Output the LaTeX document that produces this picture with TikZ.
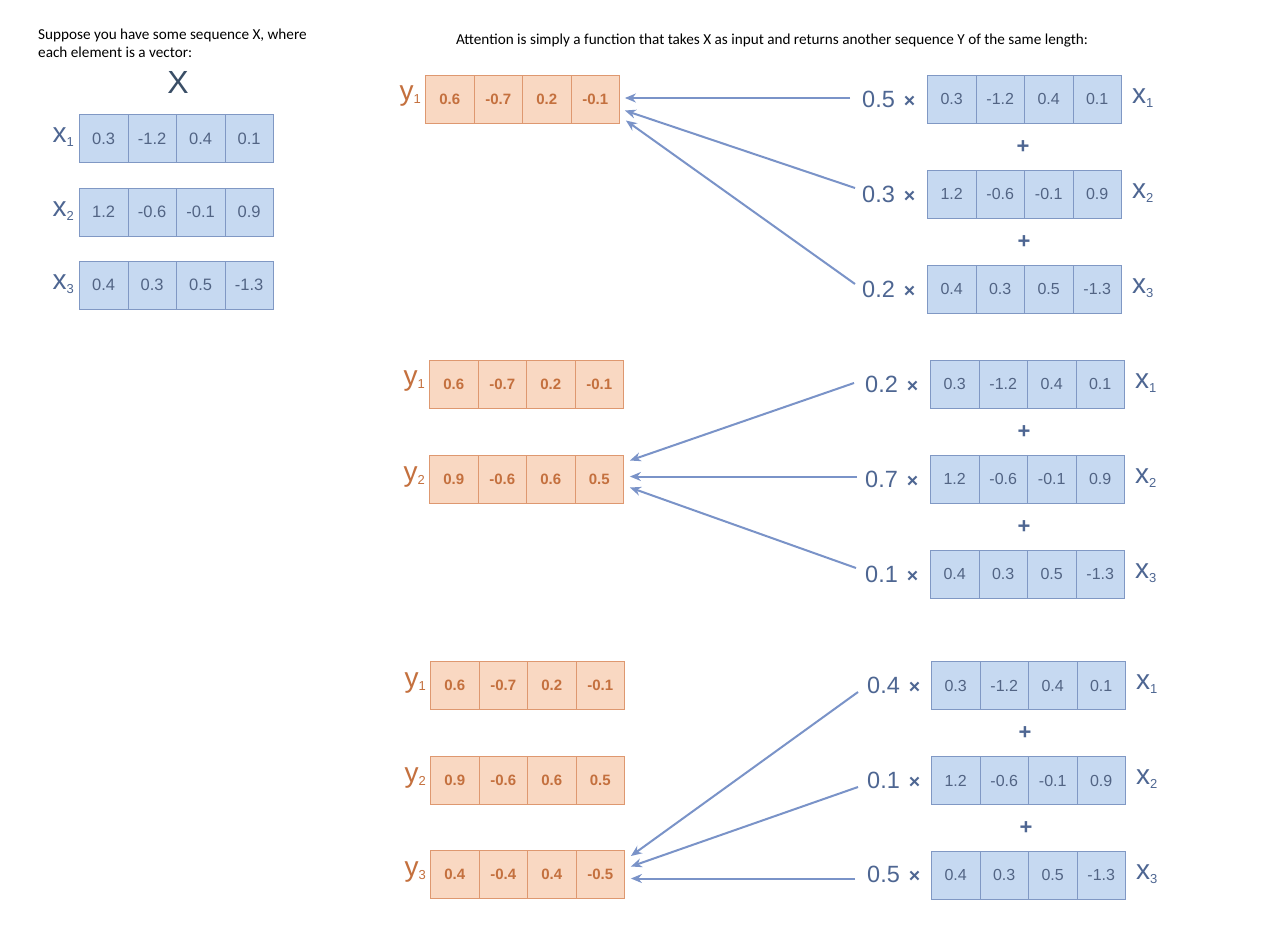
\documentclass[tikz,border=0pt]{standalone}
\usepackage{fontspec}
\setmainfont{Liberation Sans}
\newfontfamily\calfont{Carlito}
\usetikzlibrary{calc,arrows.meta}
\definecolor{bfill}{RGB}{198,217,241}
\definecolor{bdraw}{RGB}{128,152,196}
\definecolor{btext}{RGB}{82,100,132}
\definecolor{ofill}{RGB}{249,216,194}
\definecolor{odraw}{RGB}{222,152,112}
\definecolor{otext}{RGB}{196,112,62}
\definecolor{arrc}{RGB}{122,147,200}
\definecolor{wtext}{RGB}{78,102,146}
\definecolor{bigx}{RGB}{58,78,102}
\tikzset{
  cellbase/.style={line width=0.9pt, minimum width=48.5pt, minimum height=48pt, inner sep=0pt, anchor=west},
  bcell/.style={cellbase, draw=bdraw, fill=bfill, text=btext, font=\fontsize{16}{16}\selectfont},
  bcellL/.style={bcell, font=\fontsize{16.5}{16.5}\selectfont},
  ocell/.style={cellbase, draw=odraw, fill=ofill, text=otext, font=\fontsize{15}{15}\selectfont\bfseries},
  arr/.style={draw=arrc, line width=2pt, -{Stealth[length=11pt,width=9pt]}},
  wlab/.style={text=wtext, font=\fontsize{23.5}{23.5}\selectfont, anchor=west, inner sep=0pt},
  xlabel/.style={text=wtext, font=\fontsize{28}{28}\selectfont, inner sep=0pt},
  ylabel/.style={text=otext, font=\fontsize{28}{28}\selectfont, inner sep=0pt},
  plusnode/.style={text=wtext, font=\fontsize{22}{22}\selectfont\bfseries, inner sep=0pt},
  caption/.style={font=\calfont\fontsize{15.2}{18}\selectfont, inner sep=0pt, align=left}
}
\newcommand\vrow[5]{\foreach \v [count=\i] in {#5} {\node[#4] (#1-\i) at ({#2+48.5*(\i-1)}, #3) {\v};}}
\newcommand\sub[2]{#1\raisebox{-0.12em}{\fontsize{13}{13}\selectfont #2}}
\newcommand\wt[1]{#1\hspace{9pt}{\bfseries\fontsize{19.5}{19.5}\selectfont ×}}
\begin{document}
\begin{tikzpicture}[x=1pt,y=-1pt]
\useasboundingbox[fill=white] (0,0) rectangle (1273,947);

% captions
\node[caption, anchor=north west] (cap1) at (38,29) {Suppose you have some sequence X, where\\each element is a vector:};
\node[caption, anchor=center] (cap2) at (772,41) {Attention is simply a function that takes X as input and returns another sequence Y of the same length:};

% left X
\node[text=bigx, font=\fontsize{32}{32}\selectfont, inner sep=0pt] (bigX) at (178,82) {X};
\vrow{lx1}{79}{138.5}{bcellL}{0.3,-1.2,0.4,0.1}
\vrow{lx2}{79}{212}{bcellL}{1.2,-0.6,-0.1,0.9}
\vrow{lx3}{79}{285}{bcellL}{0.4,0.3,0.5,-1.3}
\node[xlabel, anchor=east] (llx1) at (74,137) {\sub{x}{1}};
\node[xlabel, anchor=east] (llx2) at (74,211) {\sub{x}{2}};
\node[xlabel, anchor=east] (llx3) at (74,284) {\sub{x}{3}};

% ---------- group 1 ----------
\vrow{ga1}{425}{99}{ocell}{0.6,-0.7,0.2,-0.1}
\node[ylabel, anchor=east] (lga1) at (421,96) {\sub{y}{1}};

\vrow{gax1}{927}{99}{bcell}{0.3,-1.2,0.4,0.1}
\vrow{gax2}{927}{194}{bcell}{1.2,-0.6,-0.1,0.9}
\vrow{gax3}{927}{289}{bcell}{0.4,0.3,0.5,-1.3}
\node[xlabel, anchor=west] (lgax1) at (1132,98) {\sub{x}{1}};
\node[xlabel, anchor=west] (lgax2) at (1132,193) {\sub{x}{2}};
\node[xlabel, anchor=west] (lgax3) at (1132,288) {\sub{x}{3}};
\node[plusnode] (pa1) at (1023,147) {+};
\node[plusnode] (pa2) at (1024,242) {+};
\node[wlab] (wa1) at (862,99) {\wt{0.5}};
\node[wlab] (wa2) at (862,194) {\wt{0.3}};
\node[wlab] (wa3) at (862,289) {\wt{0.2}};
\draw[arr] ($(wa1.west)+(-12,-1)$) -- ($(ga1-4.east)+(5,-1)$);
\draw[arr] ($(wa2.west)+(-7,-6)$) -- ($(ga1-4.east)+(5,11.5)$);
\draw[arr] ($(wa3.west)+(-7,-5)$) -- ($(ga1-4.east)+(6,21.5)$);

% ---------- group 2 ----------
\vrow{gb1}{429}{384}{ocell}{0.6,-0.7,0.2,-0.1}
\vrow{gb2}{429}{479.5}{ocell}{0.9,-0.6,0.6,0.5}
\node[ylabel, anchor=east] (lgb1) at (425,381) {\sub{y}{1}};
\node[ylabel, anchor=east] (lgb2) at (425,477) {\sub{y}{2}};

\vrow{gbx1}{930}{384}{bcell}{0.3,-1.2,0.4,0.1}
\vrow{gbx2}{930}{479}{bcell}{1.2,-0.6,-0.1,0.9}
\vrow{gbx3}{930}{574}{bcell}{0.4,0.3,0.5,-1.3}
\node[xlabel, anchor=west] (lgbx1) at (1135,383) {\sub{x}{1}};
\node[xlabel, anchor=west] (lgbx2) at (1135,478) {\sub{x}{2}};
\node[xlabel, anchor=west] (lgbx3) at (1135,573) {\sub{x}{3}};
\node[plusnode] (pb1) at (1024,432) {+};
\node[plusnode] (pb2) at (1024,527) {+};
\node[wlab] (wb1) at (865,384) {\wt{0.2}};
\node[wlab] (wb2) at (865,479) {\wt{0.7}};
\node[wlab] (wb3) at (865,574) {\wt{0.1}};
\draw[arr] ($(wb1.west)+(-11,-1)$) -- ($(gb2-4.east)+(6,-19)$);
\draw[arr] ($(wb2.west)+(-8,-2.5)$) -- ($(gb2-4.east)+(6,-3)$);
\draw[arr] ($(wb3.west)+(-9,-6)$) -- ($(gb2-4.east)+(6,8)$);

% ---------- group 3 ----------
\vrow{gc1}{430}{685.5}{ocell}{0.6,-0.7,0.2,-0.1}
\vrow{gc2}{430}{780.5}{ocell}{0.9,-0.6,0.6,0.5}
\vrow{gc3}{430}{874.5}{ocell}{0.4,-0.4,0.4,-0.5}
\node[ylabel, anchor=east] (lgc1) at (426,683) {\sub{y}{1}};
\node[ylabel, anchor=east] (lgc2) at (426,778) {\sub{y}{2}};
\node[ylabel, anchor=east] (lgc3) at (426,872) {\sub{y}{3}};

\vrow{gcx1}{931}{685.5}{bcell}{0.3,-1.2,0.4,0.1}
\vrow{gcx2}{931}{780.5}{bcell}{1.2,-0.6,-0.1,0.9}
\vrow{gcx3}{931}{875}{bcell}{0.4,0.3,0.5,-1.3}
\node[xlabel, anchor=west] (lgcx1) at (1136,684) {\sub{x}{1}};
\node[xlabel, anchor=west] (lgcx2) at (1136,779) {\sub{x}{2}};
\node[xlabel, anchor=west] (lgcx3) at (1136,874) {\sub{x}{3}};
\node[plusnode] (pc1) at (1025,733) {+};
\node[plusnode] (pc2) at (1026,828) {+};
\node[wlab] (wc1) at (867,685) {\wt{0.4}};
\node[wlab] (wc2) at (867,780) {\wt{0.1}};
\node[wlab] (wc3) at (867,874) {\wt{0.5}};
\draw[arr] ($(wc1.west)+(-9,7)$) -- ($(gc3-4.east)+(6,-18.5)$);
\draw[arr] ($(wc2.west)+(-9,7)$) -- ($(gc3-4.east)+(6,-8)$);
\draw[arr] ($(wc3.west)+(-12,4.5)$) -- ($(gc3-4.east)+(6,4)$);
\end{tikzpicture}
\end{document}
